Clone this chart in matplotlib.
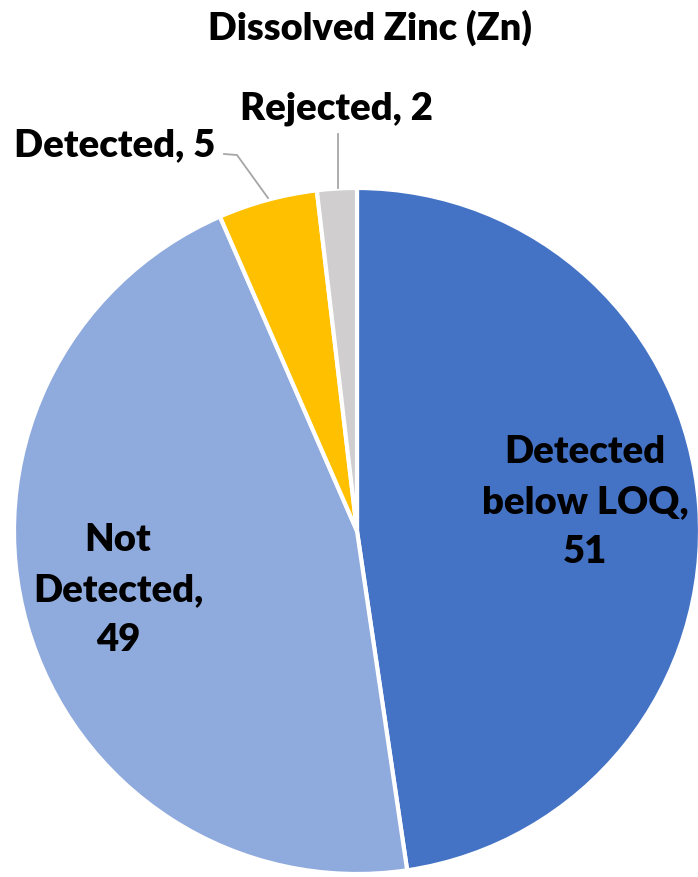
import matplotlib
matplotlib.use("Agg")
import matplotlib.pyplot as plt

categories = ["Detected below LOQ", "Not Detected", "Detected", "Rejected"]
counts = [51, 49, 5, 2]
colors = ["#4472C4", "#8FAADC", "#FFC000", "#D0CECE"]

W, H = 698, 878
fig = plt.figure(figsize=(W / 100, H / 100), dpi=100)
ax = fig.add_axes([0, 0, 1, 1])

plt.rcParams["font.family"] = ["Lato", "DejaVu Sans"]

cx, cy, r = 357, H - 532, 343
ax.pie(counts, colors=colors, startangle=90, counterclock=False,
       center=(cx, cy), radius=r, frame=True,
       wedgeprops=dict(edgecolor="white", linewidth=3))
ax.set_xlim(0, W)
ax.set_ylim(0, H)
ax.set_aspect("equal")
ax.axis("off")

fs = 27.5
weight = "heavy"
txt = dict(fontsize=fs, fontweight=weight, color="black", ha="center", va="center",
           linespacing=1.56)

ax.text(370, H - 28, "Dissolved Zinc (Zn)", fontsize=27.3, fontweight=weight,
        ha="center", va="center")

ax.text(585, H - 502, f"Detected\nbelow LOQ,\n{counts[0]}", **txt)
ax.text(118, H - 590, f"Not\nDetected,\n{counts[1]}", **txt)
ax.text(115, H - 145, f"Detected, {counts[2]}", **txt)
ax.text(336, H - 109, f"Rejected, {counts[3]}", **txt)

lc = "#A6A6A6"
ax.plot([224, 237, 268], [H - 155, H - 156, H - 199], color=lc, lw=1.3)
ax.plot([338, 338], [H - 135, H - 189], color=lc, lw=1.3)

fig.savefig("out.png", dpi=100, facecolor="white")
